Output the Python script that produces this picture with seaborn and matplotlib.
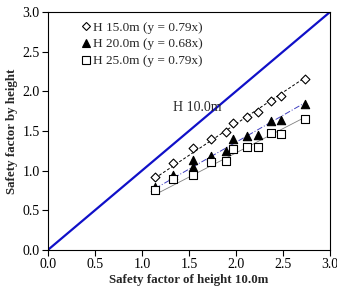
import numpy as np
import pandas as pd
import matplotlib
matplotlib.use('Agg')
import matplotlib.pyplot as plt
import seaborn as sns

# Data
x15 = [1.14, 1.33, 1.54, 1.74, 1.89, 1.97, 2.12, 2.24, 2.37, 2.48, 2.74]
y15 = [0.92, 1.10, 1.28, 1.40, 1.49, 1.60, 1.68, 1.74, 1.88, 1.94, 2.16]
x20 = [1.14, 1.33, 1.54, 1.54, 1.74, 1.89, 1.97, 2.12, 2.24, 2.37, 2.48, 2.74]
y20 = [0.79, 0.95, 1.13, 1.05, 1.18, 1.25, 1.40, 1.44, 1.45, 1.63, 1.64, 1.84]
x25 = [1.14, 1.33, 1.54, 1.74, 1.89, 1.97, 2.12, 2.24, 2.37, 2.48, 2.74]
y25 = [0.75, 0.90, 0.95, 1.11, 1.12, 1.27, 1.30, 1.30, 1.47, 1.46, 1.65]
labels = ['H 15.0m (y = 0.79x)', 'H 20.0m (y = 0.68x)', 'H 25.0m (y = 0.79x)']
ref_line = [0.0, 3.0]

sns.set_style('white')
plt.rcParams['font.family'] = ['Liberation Serif', 'DejaVu Serif']

fig = plt.figure(figsize=(3.37, 2.87), dpi=100)
ax = fig.add_axes([0.142, 0.129, 0.837, 0.829])

# 1:1 reference line
sns.lineplot(x=ref_line, y=ref_line, color='#1010c8', lw=1.6, ax=ax)

series = [
    (x15, y15, 'D', 'white', 'black', (0, (3, 2)), 0.7, 4.5),
    (x20, y20, '^', 'black', '#4040c0', (0, (6, 2, 1, 2)), 0.7, 6),
    (x25, y25, 's', 'white', 'gray', '-', 0.6, 6),
]
handles = []
for (xs, ys, mk, fc, lc, ls, lw, ms), lab in zip(series, labels):
    xs = np.array(xs)
    ys = np.array(ys)
    slope = np.sum(xs * ys) / np.sum(xs * xs)
    xf = np.array([xs.min(), xs.max()])
    sns.lineplot(x=xf, y=slope * xf, color=lc, lw=lw, linestyle=ls, ax=ax)
    sns.scatterplot(x=xs, y=ys, marker=mk, s=ms ** 2, facecolor=fc,
                    edgecolor='black', linewidth=0.8, ax=ax, zorder=3)
    h, = ax.plot([], [], marker=mk, ls='none', mfc=fc, mec='black',
                 ms=ms, mew=0.8)
    handles.append(h)

ax.text(1.33, 1.80, 'H 10.0m', fontsize=10, va='center', ha='left')

ax.legend(handles, labels, loc='upper left', frameon=False, fontsize=9.5,
          handletextpad=0.0, borderaxespad=0.3, labelspacing=0.35,
          handlelength=1.0, bbox_to_anchor=(0.08, 1.0))

ax.set_xlim(0, 3)
ax.set_ylim(0, 3)
ticks = [0.0, 0.5, 1.0, 1.5, 2.0, 2.5, 3.0]
ax.set_xticks(ticks)
ax.set_yticks(ticks)
ax.set_xticklabels([f'{t:.1f}' for t in ticks], fontsize=10)
ax.set_yticklabels([f'{t:.1f}' for t in ticks], fontsize=10)
ax.tick_params(axis='both', direction='out', length=4, width=0.8,
               bottom=True, left=True, colors='black', pad=2)
for sp in ax.spines.values():
    sp.set_color('black')
    sp.set_linewidth(0.8)
ax.set_xlabel('Safety factor of height 10.0m', fontsize=9.3,
              fontweight='bold', labelpad=2)
ax.set_ylabel('Safety factor by height', fontsize=9.3,
              fontweight='bold', labelpad=3)

fig.savefig('out.png', dpi=100)
